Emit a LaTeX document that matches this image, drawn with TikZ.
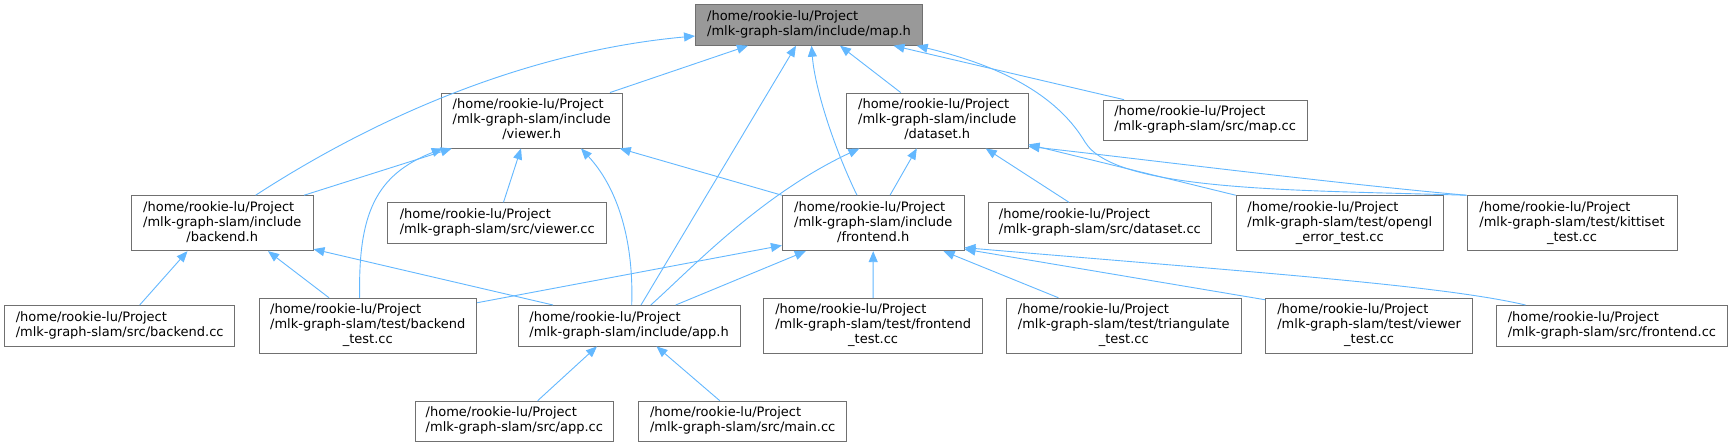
\documentclass[tikz,border=0pt]{standalone}
\usepackage{fontspec}
\setmainfont{DejaVu Sans}
\usetikzlibrary{arrows.meta}
\definecolor{edgeblue}{HTML}{63B8FF}
\definecolor{boxgray}{HTML}{707070}
\definecolor{mapfill}{HTML}{999999}
\newcommand{\nodetwo}[2]{\begin{tabular}{@{}l@{}}#1\\#2\end{tabular}}
\newcommand{\nodethree}[3]{\begin{tabular}{@{}l@{}}#1\\#2\\\multicolumn{1}{@{}c@{}}{#3}\end{tabular}}
\begin{document}
\begin{tikzpicture}[x=1pt,y=-1pt,
  box/.style={draw=boxgray, fill=white, line width=0.9pt, inner sep=0pt, font=\fontsize{13}{15}\selectfont},
  two/.style={box, minimum height=40.5pt},
  three/.style={box, minimum height=55pt},
  link/.style={draw=edgeblue, line width=0.9pt, -{Triangle[length=11pt,width=9pt]}},
]
\fill[white] (0,0) rectangle (1733,447);
\useasboundingbox (0,0) rectangle (1733,447);

\node[two, fill=mapfill, minimum width=227pt] (maph) at (809,25) {\nodetwo{/home/rookie-lu/Project}{/mlk-graph-slam/include/map.h}};
\node[three, minimum width=181.5pt] (viewerh) at (531.75,120.5) {\nodethree{/home/rookie-lu/Project}{/mlk-graph-slam/include}{/viewer.h}};
\node[three, minimum width=181.6pt] (dataseth) at (937.2,120.5) {\nodethree{/home/rookie-lu/Project}{/mlk-graph-slam/include}{/dataset.h}};
\node[two, minimum width=204.3pt] (mapcc) at (1205.15,120.35) {\nodetwo{/home/rookie-lu/Project}{/mlk-graph-slam/src/map.cc}};
\node[three, minimum width=181.5pt] (backendh) at (222.25,223.2) {\nodethree{/home/rookie-lu/Project}{/mlk-graph-slam/include}{/backend.h}};
\node[two, minimum width=219.1pt] (viewercc) at (497.25,223) {\nodetwo{/home/rookie-lu/Project}{/mlk-graph-slam/src/viewer.cc}};
\node[three, minimum width=181.6pt] (frontendh) at (873.2,223.2) {\nodethree{/home/rookie-lu/Project}{/mlk-graph-slam/include}{/frontend.h}};
\node[two, minimum width=223.7pt] (datasetcc) at (1099.85,223) {\nodetwo{/home/rookie-lu/Project}{/mlk-graph-slam/src/dataset.cc}};
\node[three, minimum width=207.1pt] (opengl) at (1339.75,223.2) {\nodethree{/home/rookie-lu/Project}{/mlk-graph-slam/test/opengl}{\_error\_test.cc}};
\node[three, minimum width=210pt] (kittiset) at (1572,223.2) {\nodethree{/home/rookie-lu/Project}{/mlk-graph-slam/test/kittiset}{\_test.cc}};
\node[two, minimum width=229.9pt] (backendcc) at (119.65,325.7) {\nodetwo{/home/rookie-lu/Project}{/mlk-graph-slam/src/backend.cc}};
\node[three, minimum width=217.6pt] (backendtest) at (367.8,325.7) {\nodethree{/home/rookie-lu/Project}{/mlk-graph-slam/test/backend}{\_test.cc}};
\node[two, minimum width=221.7pt] (apph) at (629.15,325.7) {\nodetwo{/home/rookie-lu/Project}{/mlk-graph-slam/include/app.h}};
\node[three, minimum width=218.9pt] (frontendtest) at (873.15,325.7) {\nodethree{/home/rookie-lu/Project}{/mlk-graph-slam/test/frontend}{\_test.cc}};
\node[three, minimum width=234.5pt] (triangulate) at (1123.75,325.7) {\nodethree{/home/rookie-lu/Project}{/mlk-graph-slam/test/triangulate}{\_test.cc}};
\node[three, minimum width=207.1pt] (viewertest) at (1369.15,325.7) {\nodethree{/home/rookie-lu/Project}{/mlk-graph-slam/test/viewer}{\_test.cc}};
\node[two, minimum width=230.8pt] (frontendcc) at (1611.9,325.7) {\nodetwo{/home/rookie-lu/Project}{/mlk-graph-slam/src/frontend.cc}};
\node[two, minimum width=198.7pt] (appcc) at (514.35,421.35) {\nodetwo{/home/rookie-lu/Project}{/mlk-graph-slam/src/app.cc}};
\node[two, minimum width=208.1pt] (maincc) at (742.65,421.35) {\nodetwo{/home/rookie-lu/Project}{/mlk-graph-slam/src/main.cc}};

% edges into map.h
\draw[link] ([xshift=33.35pt]backendh.north) .. controls (390,108) and (540,50) .. ([yshift=-11pt]maph.west);
\draw[link] ([xshift=78.25pt]viewerh.north) -- ([xshift=-61pt]maph.south);
\draw[link] ([xshift=11.85pt]apph.north) -- ([xshift=-13pt]maph.south);
\draw[link] ([xshift=-16.2pt]frontendh.north) .. controls (835,150) and (815,90) .. ([xshift=2.5pt]maph.south);
\draw[link] ([xshift=-36.5pt]dataseth.north) -- ([xshift=31pt]maph.south);
\draw[link] ([xshift=-81.15pt]mapcc.north) -- ([xshift=84.5pt]maph.south);
\draw[link] (kittiset.north west) .. controls (1300,190) and (1115,192) .. (1085,142) .. controls (1060,100) and (1010,68) .. ([xshift=107.7pt]maph.south);
% edges into viewer.h
\draw[link] ([xshift=81.75pt]backendh.north) -- ([xshift=-80pt]viewerh.south);
\draw[link] ([xshift=-8.1pt]backendtest.north) .. controls (358,215) and (375,175) .. ([xshift=-89pt]viewerh.south);
\draw[link] ([xshift=6.25pt]viewercc.north) -- ([xshift=-10.75pt]viewerh.south);
\draw[link] ([xshift=2.55pt]apph.north) .. controls (634,235) and (615,185) .. ([xshift=49.25pt]viewerh.south);
\draw[link] (frontendh.north west) -- ([xshift=88pt]viewerh.south);
% edges into backend.h
\draw[link] ([xshift=20.05pt]backendcc.north) -- ([xshift=-34.75pt]backendh.south);
\draw[link] ([xshift=-38.8pt]backendtest.north) -- ([xshift=45.75pt]backendh.south);
\draw[link] ([xshift=-76.15pt]apph.north) -- ([yshift=2pt]backendh.south east);
% edges into frontend.h
\draw[link] ([yshift=-5pt]backendtest.north east) -- ([yshift=5.7pt]frontendh.south west);
\draw[link] ([xshift=46.55pt]apph.north) -- ([xshift=-67.4pt]frontendh.south);
\draw[link] (frontendtest.north) -- (frontendh.south);
\draw[link] ([xshift=-65.35pt]triangulate.north) -- ([xshift=70.4pt]frontendh.south);
\draw[link] ([yshift=-2pt]viewertest.north west) -- ([yshift=2pt]frontendh.south east);
\draw[link] ([xshift=-86.4pt]frontendcc.north) .. controls (1440,285) and (1250,272) .. ([yshift=3.5pt]frontendh.south east);
% edges into dataset.h
\draw[link] ([xshift=21.65pt]apph.north) .. controls (690,270) and (760,195) .. ([xshift=-77.8pt]dataseth.south);
\draw[link] ([xshift=16.8pt]frontendh.north) -- ([xshift=-20.4pt]dataseth.south);
\draw[link] ([xshift=-30.85pt]datasetcc.north) -- ([xshift=48.5pt]dataseth.south);
\draw[link] (opengl.north west) -- ([yshift=4pt]dataseth.south east);
\draw[link] (kittiset.north west) .. controls (1330,183) and (1150,160) .. ([yshift=2pt]dataseth.south east);
% edges into app.h
\draw[link] ([xshift=23.35pt]appcc.north) -- ([xshift=-32.15pt]apph.south);
\draw[link] ([xshift=-22.95pt]maincc.north) -- ([xshift=27.35pt]apph.south);
\end{tikzpicture}
\end{document}
